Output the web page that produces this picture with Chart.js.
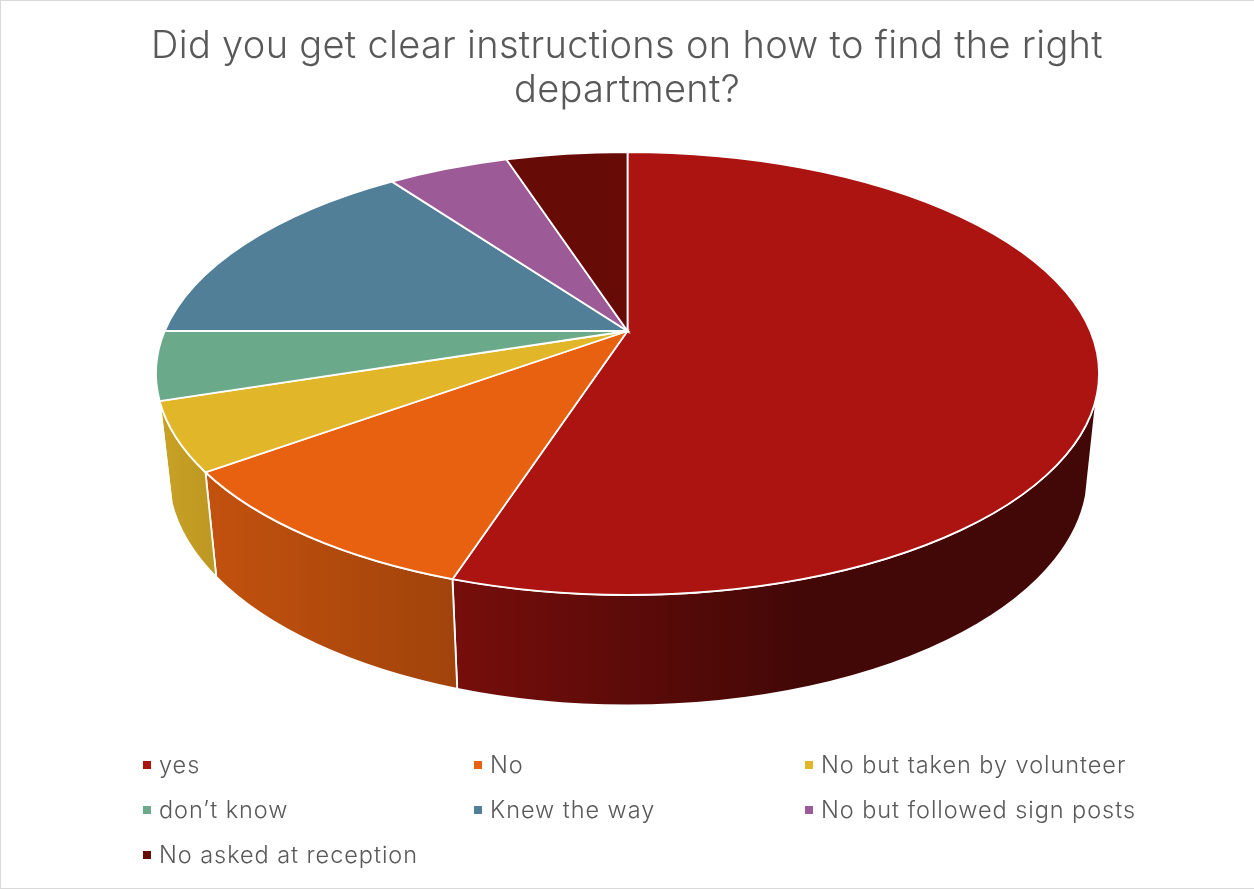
<!DOCTYPE html>
<html>
<head>
<meta charset="utf-8">
<title>Clear instructions</title>
<script src="https://cdn.jsdelivr.net/npm/chart.js@4"></script>
<style>
    html, body { margin:0; padding:0; background:#fff; overflow:hidden; }
    #frame { position:absolute; left:0; top:0; width:1270px; height:889px; box-sizing:border-box; border:1px solid #d9d9d9; }
    #pie { position:absolute; left:0; top:0; }
    #legend { position:absolute; left:143px; top:742px; display:grid; grid-template-columns:331px 331px 331px; grid-auto-rows:45px;
        font-family:Inter, sans-serif; font-weight:300; font-size:23.5px; letter-spacing:0.95px; color:#595959; }
    #legend div { display:flex; align-items:center; white-space:nowrap; }
    #legend i { display:inline-block; width:8px; height:8px; margin-right:8px; }
</style>
</head>
<body>
<div id="frame"></div>
<canvas id="pie" width="1254" height="889"></canvas>
<div id="legend"></div>
<script>
const categories = ["yes", "No", "No but taken by volunteer", "don\u2019t know", "Knew the way", "No but followed sign posts", "No asked at reception"]
const shares = [55, 10, 5, 5, 15, 5, 5]
const colors = ["#ab1410", "#e86110", "#e2b629", "#6ba98b", "#527f98", "#9c5b96", "#670b07"]
const titleLines = ["Did you get clear instructions on how to find the right", "department?"]

// Tilted disc: apex of the slices, perspective of the top face, lower rim
const apex = { x:627.5, y:331 }
const tilt = { k:463, a:0.192, b:213.3 }
const topRim = { x:627.5, y:373.5, rx:471.5, ry:221.5 }
const lowRim = { x:628, y:473.5, rx:460, ry:232 }
const sideFrom = 5.5 * Math.PI / 180
const sideTo = 173 * Math.PI / 180

// where a slice angle lands on the top ellipse, as an ellipse parameter
function rimParam(angle){
    const d = 1 - tilt.a * Math.sin(angle)
    const px = apex.x + tilt.k * Math.cos(angle) / d
    const py = apex.y + tilt.b * Math.sin(angle) / d
    return Math.atan2((py - topRim.y) / topRim.ry, (px - topRim.x) / topRim.rx)
}

function rimPoint(rim, p){
    return { x: rim.x + rim.rx * Math.cos(p), y: rim.y + rim.ry * Math.sin(p) }
}

const tiltedPie = {
    id: "tiltedPie",
    beforeDraw(chart){
        chart.ctx.letterSpacing = "0.31px"
    },
    beforeDatasetDraw(chart, args){
        const ctx = chart.ctx
        const arcs = args.meta.data

        // Side wall
        arcs.forEach(arc => {
            let p0 = rimParam(arc.startAngle)
            let p1 = rimParam(arc.endAngle)
            if (p1 < p0) p1 += Math.PI * 2
            const lo = Math.max(p0, sideFrom)
            const hi = Math.min(p1, sideTo)
            if (hi <= lo) return

            const wall = () => {
                ctx.beginPath()
                ctx.ellipse(topRim.x, topRim.y, topRim.rx, topRim.ry, 0, lo, hi)
                const b = rimPoint(lowRim, hi)
                ctx.lineTo(b.x, b.y)
                ctx.ellipse(lowRim.x, lowRim.y, lowRim.rx, lowRim.ry, 0, hi, lo, true)
                ctx.closePath()
            }
            wall()
            ctx.fillStyle = arc.options.backgroundColor
            ctx.fill()

            const shade = ctx.createLinearGradient(157, 0, 1100, 0)
            shade.addColorStop(0, "rgba(0,0,0,0.11)")
            shade.addColorStop(0.064, "rgba(0,0,0,0.17)")
            shade.addColorStop(0.319, "rgba(0,0,0,0.31)")
            shade.addColorStop(0.68, "rgba(0,0,0,0.61)")
            shade.addColorStop(1, "rgba(0,0,0,0.61)")
            ctx.fillStyle = shade
            ctx.fill()

            ctx.strokeStyle = "#fff"
            ctx.lineWidth = 1.8
            ctx.stroke()
        })

        // Top face
        arcs.forEach(arc => {
            ctx.beginPath()
            ctx.moveTo(apex.x, apex.y)
            ctx.ellipse(topRim.x, topRim.y, topRim.rx, topRim.ry, 0, rimParam(arc.startAngle), rimParam(arc.endAngle))
            ctx.closePath()
            ctx.fillStyle = arc.options.backgroundColor
            ctx.fill()
            ctx.strokeStyle = "#fff"
            ctx.lineWidth = 1.8
            ctx.stroke()
        })
        return false
    }
}

const chart = new Chart(document.getElementById("pie"), {
    type: "pie",
    data: { labels: categories, datasets: [{ data: shares, backgroundColor: colors }] },
    options: {
        responsive: false,
        animation: false,
        layout: { padding: 0 },
        plugins: {
            legend: { display: false },
            tooltip: { enabled: false },
            title: {
                display: true,
                text: titleLines,
                color: "#595959",
                font: { family: "Inter, sans-serif", size: 38, weight: "300", lineHeight: 1.17 },
                padding: { top: 24, bottom: 10 }
            }
        }
    },
    plugins: [tiltedPie]
})

// Legend in three columns
const legendBox = document.getElementById("legend")
chart.data.labels.forEach((label, i) => {
    const row = document.createElement("div")
    const mark = document.createElement("i")
    mark.style.background = colors[i]
    row.appendChild(mark)
    row.appendChild(document.createTextNode(label))
    legendBox.appendChild(row)
})
</script>
</body>
</html>
